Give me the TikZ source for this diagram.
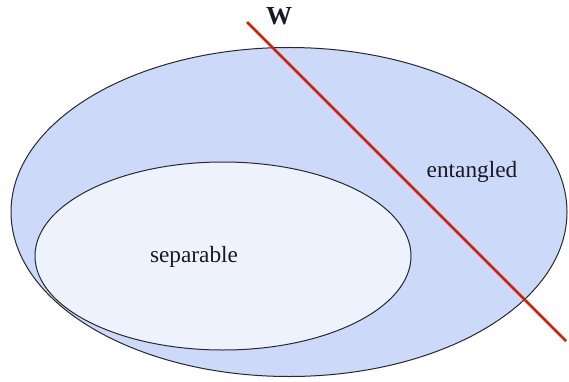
\documentclass[tikz,border=0pt]{standalone}
\usepackage{fontspec}
\setmainfont{Liberation Serif}
\definecolor{outerfill}{RGB}{205,217,248}
\definecolor{innerfill}{RGB}{238,242,253}
\definecolor{wred}{RGB}{204,34,8}
\definecolor{edge}{RGB}{40,40,45}
\definecolor{txt}{RGB}{25,25,35}
\begin{document}
\begin{tikzpicture}[x=1pt,y=-1pt,
  setline/.style={draw=edge,line width=1pt},
  lbl/.style={font=\fontsize{23.3}{26}\selectfont,inner sep=0pt,text=txt}]
\useasboundingbox (0,0) rectangle (569,382);
\fill[white] (0,0) rectangle (569,382);
\path[setline,fill=outerfill] (289,212) ellipse [x radius=278, y radius=164.5];
\path[setline,fill=innerfill] (223,256) ellipse [x radius=188, y radius=94];
\coordinate (wa) at (247,22);
\coordinate (wb) at (566,341);
\draw[wred,line width=2.8pt] (wa) -- (wb);
\node[lbl,font=\fontsize{26}{28}\selectfont\bfseries] (w) at (279,16) {W};
\node[lbl] (ent) at (472,172) {entangled};
\node[lbl] (sep) at (194,257) {separable};
\end{tikzpicture}
\end{document}
